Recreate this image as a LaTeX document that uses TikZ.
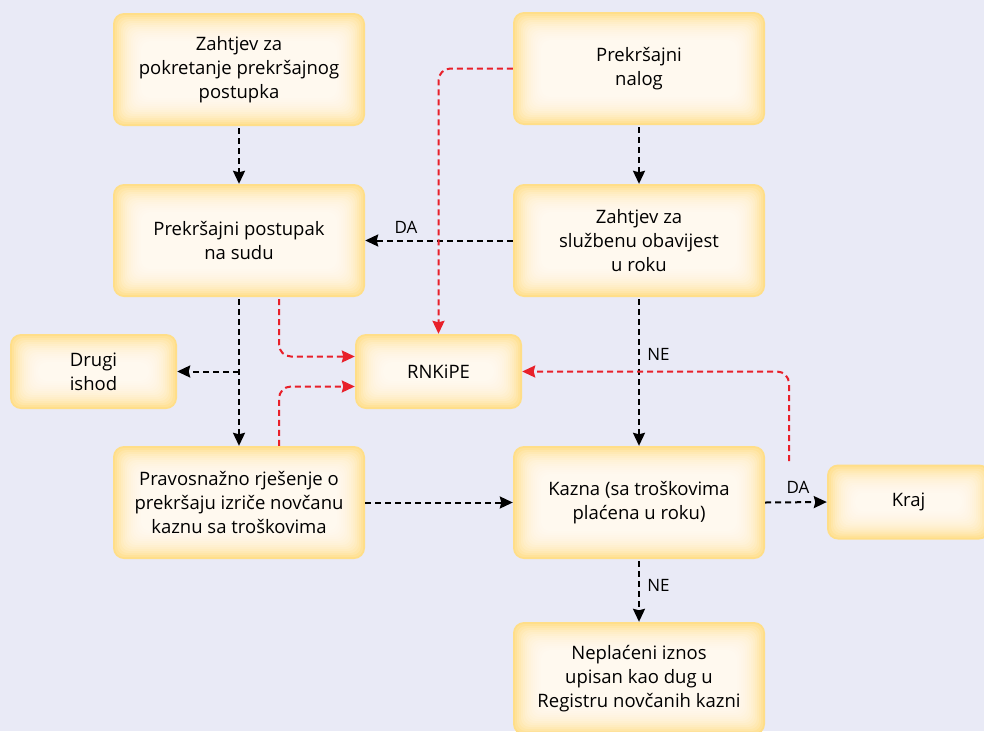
\documentclass[tikz,border=0pt]{standalone}
\usepackage{fontspec}
\setmainfont{Open Sans}
\usetikzlibrary{arrows.meta,calc}
\definecolor{bg}{HTML}{E9EAF6}
\definecolor{boxy}{HTML}{FFDE88}
\definecolor{rd}{HTML}{E8202A}
\begin{document}
\begin{tikzpicture}[x=1pt,y=-1pt,
  box/.style={rounded corners=11pt, fill=boxy, align=center, inner sep=0pt,
    minimum width=252pt, minimum height=113pt,
    font=\fontsize{18.5}{24}\selectfont,
    path picture={
      \foreach \k in {1,...,14}{
        \fill[white, opacity=0.15, rounded corners=9pt]
          ($(path picture bounding box.south west)+(\k*2pt,\k*2pt)$) rectangle
          ($(path picture bounding box.north east)-(\k*2pt,\k*2pt)$);
      }}},
  sbox/.style={box, minimum width=167pt, minimum height=75pt},
  blk/.style={line width=2pt, dash pattern=on 6pt off 4pt, -{Stealth[length=13pt,width=12pt,inset=1.5pt]}},
  redl/.style={blk, draw=rd, rounded corners=12pt, -{Stealth[length=13pt,width=12pt,inset=1.5pt,fill=rd]}},
  lbl/.style={font=\fontsize{17}{20}\selectfont}
]
\useasboundingbox (0,0) rectangle (984,731);
\fill[bg] (0,0) rectangle (984,731);

\node[box] (zpp) at (239,69.5) {Zahtjev za\\pokretanje prekršajnog\\postupka};
\node[box] (nal) at (639,68.5) {Prekršajni\\nalog};
\node[box] (post) at (239,240.5) {Prekršajni postupak\\na sudu};
\node[box] (zso) at (639,240.5) {Zahtjev za\\službenu obavijest\\u roku};
\node[sbox] (drug) at (93.5,371.5) {Drugi\\ishod};
\node[sbox] (rnk) at (438.5,371.5) {RNKiPE};
\node[box] (prav) at (239,502.5) {Pravosnažno rješenje o\\prekršaju izriče novčanu\\kaznu sa troškovima};
\node[box] (kaz) at (639,502.5) {Kazna (sa troškovima\\plaćena u roku)};
\node[sbox, minimum width=163pt] (kraj) at (908.5,502) {Kraj};
\node[box] (nep) at (639,678.5) {Neplaćeni iznos\\upisan kao dug u\\Registru novčanih kazni};

% black connectors
\draw[blk] ([yshift=-2pt]zpp.south) -- (post.north);
\draw[blk] ([yshift=-2pt]nal.south) -- (zso.north);
\draw[blk] (zso.west) -- (post.east) node[lbl, midway, above, yshift=3pt, xshift=-33pt] {DA};
\draw[blk] ([yshift=-2pt]post.south) -- (prav.north);
\coordinate (br) at (post.south |- drug.east);
\draw[blk] (br) -- (drug.east);
\draw[blk] ([yshift=-2pt]zso.south) -- (kaz.north) node[lbl, pos=0.38, right, xshift=4pt] {NE};
\draw[blk] (prav.east) -- (kaz.west);
\draw[blk] (kaz.east) -- (kraj.west) node[lbl, midway, above, yshift=4pt, xshift=2pt] {DA};
\draw[blk] ([yshift=-2pt]kaz.south) -- (nep.north) node[lbl, pos=0.4, right, xshift=4pt] {NE};

% red connectors
\draw[redl] (nal.west) -| (rnk.north);
\draw[redl] ([xshift=40pt,yshift=-2pt]post.south) |- ([yshift=15pt]rnk.west);
\draw[redl] ([xshift=40pt]prav.north) |- ([yshift=-15pt]rnk.west);
\coordinate (kr) at (789,461);
\draw[redl] (kr) |- (rnk.east);
\end{tikzpicture}
\end{document}
